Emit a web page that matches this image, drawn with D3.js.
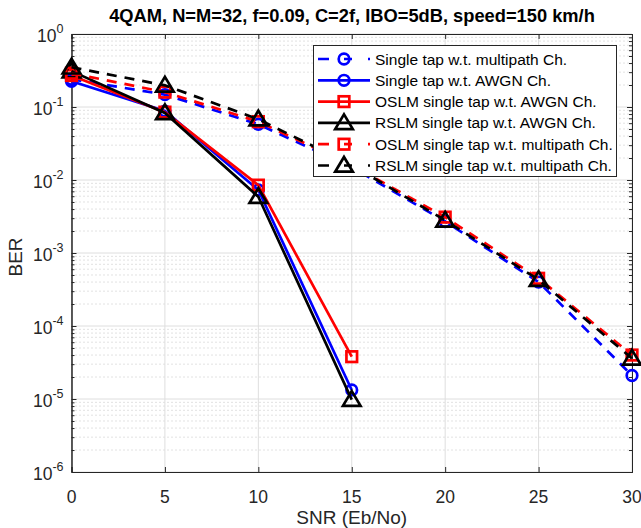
<!DOCTYPE html>
<html><head><meta charset="utf-8">
<script src="https://cdn.jsdelivr.net/npm/d3@7"></script>
<style>body{margin:0;background:#fff}svg{display:block}text{font-family:"Liberation Sans",Arial,sans-serif}</style>
</head><body>
<script>
// ---- data ----
const snrMulti = [0, 5, 10, 15, 20, 25, 30];
const snrAwgn = [0, 5, 10, 15];
const singleMulti = [0.24, 0.148, 0.058, 0.015, 0.0027, 0.00040, 0.000021];
const singleAwgn = [0.225, 0.088, 0.0073, 0.0000133];
const oslmAwgn = [0.27, 0.085, 0.0085, 0.000038];
const rslmAwgn = [0.31, 0.083, 0.0059, 0.0000098];
const oslmMulti = [0.29, 0.16, 0.063, 0.016, 0.0031, 0.00045, 0.000040];
const rslmMulti = [0.35, 0.198, 0.068, 0.016, 0.0028, 0.00043, 0.000036];
const xTicks = [0, 5, 10, 15, 20, 25, 30];
const yExps = [0, -1, -2, -3, -4, -5, -6];
const legendLabels = ["Single tap w.t. multipath Ch.", "Single tap w.t. AWGN Ch.", "OSLM single tap w.t. AWGN Ch.",
  "RSLM single tap w.t. AWGN Ch.", "OSLM single tap w.t. multipath Ch.", "RSLM single tap w.t. multipath Ch."];
const titleText = "4QAM, N=M=32, f=0.09, C=2f, IBO=5dB, speed=150 km/h";

const series = [
  {x: snrMulti, y: singleMulti, color: "#0000ff", dash: true, marker: "circle"},
  {x: snrAwgn, y: singleAwgn, color: "#0000ff", dash: false, marker: "circle"},
  {x: snrAwgn, y: oslmAwgn, color: "#ff0000", dash: false, marker: "square"},
  {x: snrAwgn, y: rslmAwgn, color: "#000000", dash: false, marker: "triangle"},
  {x: snrMulti, y: oslmMulti, color: "#ff0000", dash: true, marker: "square"},
  {x: snrMulti, y: rslmMulti, color: "#000000", dash: true, marker: "triangle"}
];

const W = 641, H = 528;
const L = 71.5, R = 632, T = 34, B = 472;
const svg = d3.select("body").append("svg").attr("width", W).attr("height", H);
const x = d3.scaleLinear().domain([0, 30]).range([L, R]);
const y = d3.scaleLog().domain([1e-6, 1]).range([B, T]);
const axisCol = "#262626";
const LW = 2.7;

// grid
const g = svg.append("g");
const minorVals = [];
for (let e = -6; e < 0; e++) for (let k = 2; k <= 9; k++) minorVals.push(k * Math.pow(10, e));
g.selectAll(".mg").data(minorVals).enter().append("line")
  .attr("x1", L).attr("x2", R).attr("y1", d => y(d)).attr("y2", d => y(d))
  .attr("stroke", "#c4c4c4").attr("stroke-width", 1).attr("stroke-dasharray", "1,3");
g.selectAll(".gx").data(xTicks).enter().append("line")
  .attr("x1", d => x(d)).attr("x2", d => x(d)).attr("y1", T).attr("y2", B)
  .attr("stroke", "#dedede").attr("stroke-width", 1);
g.selectAll(".gy").data(yExps).enter().append("line")
  .attr("x1", L).attr("x2", R).attr("y1", d => y(Math.pow(10, d))).attr("y2", d => y(Math.pow(10, d)))
  .attr("stroke", "#dedede").attr("stroke-width", 1);

// axes with inward ticks
const ax = svg.append("g");
ax.append("g").attr("transform", `translate(0,${B})`).call(d3.axisBottom(x).tickValues(xTicks).tickSize(-5).tickFormat(""));
ax.append("g").attr("transform", `translate(0,${T})`).call(d3.axisTop(x).tickValues(xTicks).tickSize(-5).tickFormat(""));
const yMaj = yExps.map(e => Math.pow(10, e));
ax.append("g").attr("transform", `translate(${L},0)`).call(d3.axisLeft(y).tickValues(yMaj).tickSize(-5).tickFormat(""));
ax.append("g").attr("transform", `translate(${R},0)`).call(d3.axisRight(y).tickValues(yMaj).tickSize(-5).tickFormat(""));
ax.append("g").attr("transform", `translate(${L},0)`).call(d3.axisLeft(y).tickValues(minorVals).tickSize(-3).tickFormat(""));
ax.append("g").attr("transform", `translate(${R},0)`).call(d3.axisRight(y).tickValues(minorVals).tickSize(-3).tickFormat(""));
ax.selectAll("path.domain").attr("stroke", axisCol).attr("stroke-width", 1);
ax.selectAll(".tick line").attr("stroke", axisCol).attr("stroke-width", 1);

// tick labels
svg.selectAll(".xl").data(xTicks).enter().append("text")
  .attr("x", d => x(d)).attr("y", B + 31).attr("text-anchor", "middle")
  .attr("font-size", 17.5).attr("fill", axisCol).text(d => d);
const yl = svg.selectAll(".yl").data(yExps).enter().append("text")
  .attr("x", L - 8).attr("y", d => y(Math.pow(10, d)) + 8).attr("text-anchor", "end")
  .attr("font-size", 17.5).attr("fill", axisCol);
yl.append("tspan").text("10");
yl.append("tspan").attr("dy", -9).attr("font-size", 12.5).text(d => d === 0 ? "0" : "-" + (-d));

// labels
svg.append("text").attr("x", (L + R) / 2).attr("y", 524).attr("text-anchor", "middle")
  .attr("font-size", 19).attr("fill", axisCol).text("SNR (Eb/No)");
svg.append("text").attr("transform", `translate(22,${(T + B) / 2 + 4}) rotate(-90)`).attr("text-anchor", "middle")
  .attr("font-size", 19).attr("fill", axisCol).text("BER");
svg.append("text").attr("x", 352).attr("y", 21.5).attr("text-anchor", "middle")
  .attr("font-size", 18.3).attr("font-weight", "bold").attr("fill", "#000").text(titleText);

// marker drawing
function drawMarker(sel, type, color) {
  if (type === "circle") sel.append("circle").attr("r", 5.3);
  else if (type === "square") sel.append("rect").attr("x", -5.3).attr("y", -5.3).attr("width", 10.6).attr("height", 10.6);
  else sel.append("path").attr("d", "M0,-8.5L8.8,6.2L-8.8,6.2Z");
  sel.selectAll("*").attr("fill", "none").attr("stroke", color).attr("stroke-width", LW);
}

// series
const line = d3.line().x(d => x(d[0])).y(d => y(d[1]));
const plot = svg.append("g");
series.forEach(s => {
  const pts = s.x.map((v, i) => [v, s.y[i]]);
  const sg = plot.append("g");
  sg.append("path").attr("d", line(pts)).attr("fill", "none").attr("stroke", s.color)
    .attr("stroke-width", LW).attr("stroke-dasharray", s.dash ? "10,8" : null);
  pts.forEach(p => {
    const m = sg.append("g").attr("transform", `translate(${x(p[0])},${y(p[1])})`);
    drawMarker(m, s.marker, s.color);
  });
});

// legend
const lg = svg.append("g");
lg.append("rect").attr("x", 313.5).attr("y", 45.5).attr("width", 303).attr("height", 131)
  .attr("fill", "#fff").attr("stroke", axisCol).attr("stroke-width", 1);
series.forEach((s, i) => {
  const cy = 59 + i * 21.3;
  lg.append("line").attr("x1", 318).attr("x2", 370).attr("y1", cy).attr("y2", cy)
    .attr("stroke", s.color).attr("stroke-width", LW).attr("stroke-dasharray", s.dash ? "11,15,8,16,2" : null);
  const m = lg.append("g").attr("transform", `translate(344,${cy})`);
  drawMarker(m, s.marker, s.color);
  lg.append("text").attr("x", 375).attr("y", cy + 5.5).attr("font-size", 15.5).attr("fill", "#000").text(legendLabels[i]);
});
</script>
</body></html>
